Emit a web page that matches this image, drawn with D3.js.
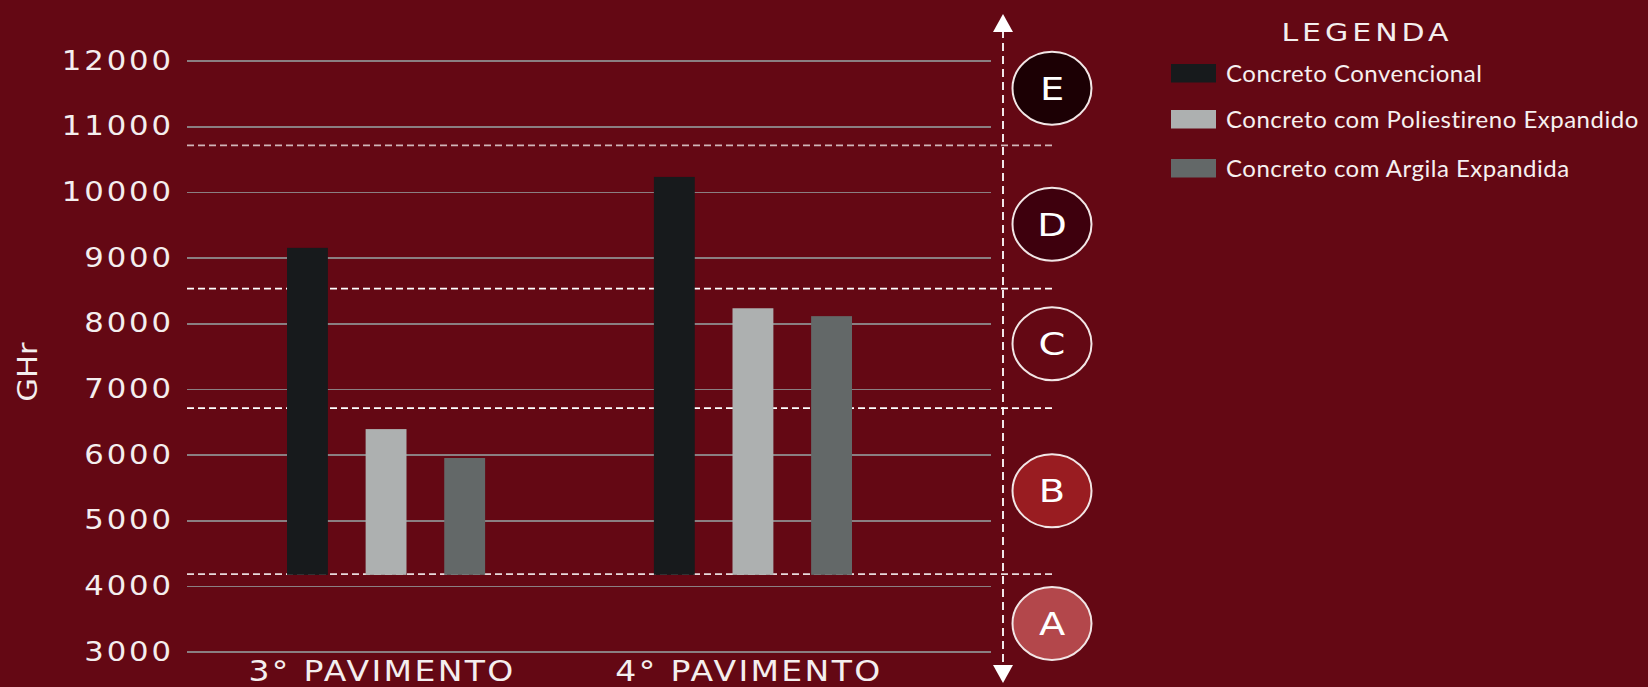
<!doctype html>
<html>
  <head>
    <meta charset="utf-8">
    <script src="https://d3js.org/d3.v7.min.js"></script>
    <style>
      body { margin: 0; background: #640814; }
      .grid line { stroke: #8a7f82; stroke-width: 1.5; shape-rendering: crispEdges; }
      .grid path { stroke-width: 0; }
      .ticks path { stroke-width: 0; }
      .ticks text { font-family: "DejaVu Sans", sans-serif; font-size: 26px; fill: #f4eeee; letter-spacing: 2.5px; }
    </style>
  </head>
  <body>
    <script>
    // data
    var categories = ['3° PAVIMENTO', '4° PAVIMENTO'];
    var series = ['Concreto Convencional', 'Concreto com Poliestireno Expandido', 'Concreto com Argila Expandida'];
    var convencional = [9150, 10230];
    var poliestireno = [6390, 8230];
    var argila = [5950, 8110];
    var baseValue = 4170;
    var yTicks = [3000, 4000, 5000, 6000, 7000, 8000, 9000, 10000, 11000, 12000];
    var zoneLimits = [4180, 6710, 8530, 10710];
    var zoneLabels = ['A', 'B', 'C', 'D', 'E'];
    var zoneLabelAt = [3430, 5450, 7690, 9510, 11580];
    var zoneColors = ['#b3474b', '#991c21', '#640814', '#3e000d', '#1c0004'];
    var colors = ['#171a1c', '#adb0b0', '#636868'];

    var width = 1648;
    var height = 687;
    var stretch = 'scale(1.18,1)';

    var svg = d3.select('body')
      .append('svg')
      .attr('width', width)
      .attr('height', height);

    svg.append('rect')
      .attr('width', width)
      .attr('height', height)
      .attr('fill', '#640814');

    var gridLeft = 187, gridRight = 991;

    var y = d3.scaleLinear()
      .domain([3000, 12000])
      .range([651.7, 60.7]);

    var x0 = d3.scaleBand()
      .domain(categories)
      .range([287, 852])
      .paddingInner(0.46);

    var x1 = d3.scaleBand()
      .domain(series)
      .range([0, x0.bandwidth()])
      .paddingInner(0.48);

    var colorScale = d3.scaleOrdinal().domain(series).range(colors);

    // gridlines
    svg.append('g')
      .attr('class', 'grid')
      .attr('transform', 'translate(' + gridLeft + ',0)')
      .call(d3.axisLeft(y).tickValues(yTicks).tickSize(-(gridRight - gridLeft)).tickFormat(''));

    // tick labels (stretched horizontally to mimic the wide face)
    var ticks = svg.append('g')
      .attr('class', 'ticks')
      .attr('transform', 'translate(' + gridLeft + ',0)')
      .call(d3.axisLeft(y).tickValues(yTicks).tickSize(0).tickPadding(11).tickFormat(d3.format('d')));
    ticks.selectAll('.tick text').attr('transform', stretch);

    // zone dashed lines
    svg.selectAll('.zone')
      .data(zoneLimits)
      .enter()
      .append('line')
      .attr('class', 'zone')
      .attr('x1', gridLeft)
      .attr('x2', 1052)
      .attr('y1', function(d) { return y(d); })
      .attr('y2', function(d) { return y(d); })
      .attr('stroke', '#ffffff')
      .attr('stroke-opacity', function(d, i) { return i === 3 ? 0.7 : (i === 0 ? 0.85 : 1); })
      .attr('stroke-width', 1.8)
      .attr('stroke-dasharray', '7,4');

    // bars
    var rows = categories.map(function(c, i) {
      return [convencional[i], poliestireno[i], argila[i]].map(function(v, j) {
        return { cat: c, key: series[j], value: v };
      });
    });

    var groups = svg.selectAll('.cat')
      .data(rows)
      .enter()
      .append('g')
      .attr('class', 'cat')
      .attr('transform', function(d) { return 'translate(' + x0(d[0].cat) + ',0)'; });

    groups.selectAll('rect')
      .data(function(d) { return d; })
      .enter()
      .append('rect')
      .attr('x', function(d) { return x1(d.key); })
      .attr('y', function(d) { return y(d.value); })
      .attr('width', x1.bandwidth())
      .attr('height', function(d) { return y(baseValue) - y(d.value); })
      .attr('fill', function(d) { return colorScale(d.key); });

    // category labels
    svg.selectAll('.catlabel')
      .data(categories)
      .enter()
      .append('text')
      .attr('class', 'catlabel')
      .attr('transform', function(d) {
        return 'translate(' + (x0(d) + x0.bandwidth() / 2 - 4) + ',681) ' + stretch;
      })
      .attr('text-anchor', 'middle')
      .attr('font-family', 'DejaVu Sans, sans-serif')
      .style('font-size', '28px')
      .style('letter-spacing', '2px')
      .attr('fill', '#f4eeee')
      .text(function(d) { return d; });

    // y axis title
    svg.append('text')
      .attr('transform', 'translate(37,372) rotate(-90) ' + stretch)
      .attr('text-anchor', 'middle')
      .attr('font-family', 'DejaVu Sans, sans-serif')
      .style('font-size', '26px')
      .attr('fill', '#f4eeee')
      .text('GHr');

    // vertical arrow
    var ax = 1003;
    svg.append('line')
      .attr('x1', ax).attr('x2', ax)
      .attr('y1', 30).attr('y2', 667)
      .attr('stroke', '#ffffff')
      .attr('stroke-width', 1.8)
      .attr('stroke-dasharray', '8,5');
    svg.append('path')
      .attr('d', 'M' + ax + ',14L' + (ax + 10) + ',32L' + (ax - 10) + ',32Z')
      .attr('fill', '#ffffff');
    svg.append('path')
      .attr('d', 'M' + ax + ',683L' + (ax + 10) + ',665L' + (ax - 10) + ',665Z')
      .attr('fill', '#ffffff');

    // zone circles
    var zones = svg.selectAll('.zonecircle')
      .data(zoneLabels)
      .enter()
      .append('g')
      .attr('class', 'zonecircle')
      .attr('transform', function(d, i) { return 'translate(1052,' + y(zoneLabelAt[i]) + ')'; });

    zones.append('ellipse')
      .attr('rx', 39.5)
      .attr('ry', 36.5)
      .attr('fill', function(d, i) { return zoneColors[i]; })
      .attr('stroke', '#f2e6e6')
      .attr('stroke-width', 2);

    zones.append('text')
      .attr('text-anchor', 'middle')
      .attr('dy', '0.36em')
      .attr('transform', 'scale(1.2,1)')
      .attr('font-family', 'DejaVu Sans, sans-serif')
      .style('font-size', '32px')
      .attr('fill', '#ffffff')
      .text(function(d) { return d; });

    // legend
    svg.append('text')
      .attr('transform', 'translate(1367,41) scale(1.2,1)')
      .attr('text-anchor', 'middle')
      .attr('font-family', 'DejaVu Sans, sans-serif')
      .style('font-size', '25px')
      .style('letter-spacing', '3.3px')
      .attr('fill', '#f4eeee')
      .text('LEGENDA');

    var legendY = [64, 110, 159];
    var legend = svg.selectAll('.legend')
      .data(series)
      .enter()
      .append('g')
      .attr('class', 'legend')
      .attr('transform', function(d, i) { return 'translate(1171,' + legendY[i] + ')'; });

    legend.append('rect')
      .attr('width', 45)
      .attr('height', 18.5)
      .attr('fill', function(d) { return colorScale(d); });

    legend.append('text')
      .attr('x', 55)
      .attr('y', 17.5)
      .attr('font-family', 'Lato, sans-serif')
      .style('font-size', '24px')
      .style('letter-spacing', '0.5px')
      .attr('fill', '#f6f0f0')
      .text(function(d) { return d; });
    </script>
  </body>
</html>
